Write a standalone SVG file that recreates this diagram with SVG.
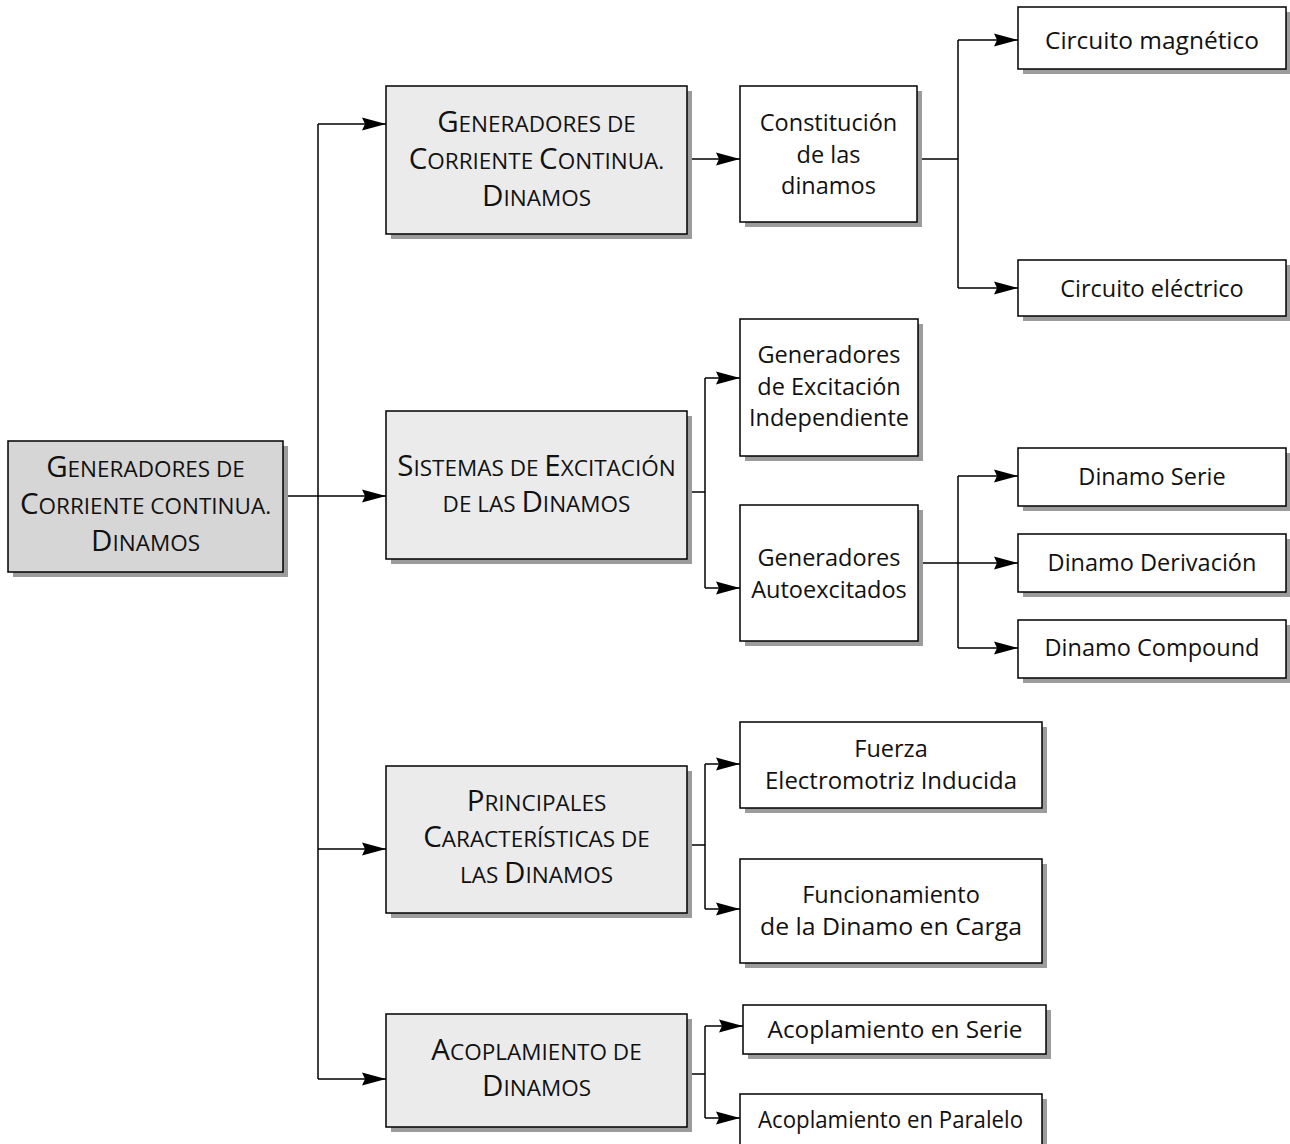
<svg xmlns="http://www.w3.org/2000/svg" width="1290" height="1144" viewBox="0 0 1290 1144">
<style>
.sh{fill:#9c9c9c}
.bx{stroke:#000;stroke-width:1.5;fill:#fff}
.l1{fill:#ebebeb}
.rt{fill:#d6d6d6}
text{font-family:"Open Sans","Noto Sans","Liberation Sans",sans-serif;fill:#111;text-anchor:middle}
.sc{font-size:22.5px}
.B{font-size:29.5px}
.t{font-size:23.5px}
.cn path{stroke:#000;stroke-width:1.5;fill:none}
</style>
<defs>
<marker id="ar" markerUnits="userSpaceOnUse" markerWidth="26" markerHeight="14" refX="24" refY="7" orient="auto">
<path d="M0,0.5 L24,7 L0,13.5 L3,7 Z" fill="#000"/>
</marker>
</defs>
<rect width="1290" height="1144" fill="#fff"/>

<g class="cn">
<path d="M283,496 H386" marker-end="url(#ar)"/>
<path d="M318,124 V1079"/>
<path d="M318,124 H386" marker-end="url(#ar)"/>
<path d="M318,849 H386" marker-end="url(#ar)"/>
<path d="M318,1079 H386" marker-end="url(#ar)"/>
<path d="M687,159 H740" marker-end="url(#ar)"/>
<path d="M917,159 H958"/>
<path d="M958,40 V288"/>
<path d="M958,40 H1018" marker-end="url(#ar)"/>
<path d="M958,288 H1018" marker-end="url(#ar)"/>
<path d="M687,492 H705"/>
<path d="M705,378 V588"/>
<path d="M705,378 H740" marker-end="url(#ar)"/>
<path d="M705,588 H740" marker-end="url(#ar)"/>
<path d="M918,563 H1018" marker-end="url(#ar)"/>
<path d="M958,476 V648"/>
<path d="M958,476 H1018" marker-end="url(#ar)"/>
<path d="M958,648 H1018" marker-end="url(#ar)"/>
<path d="M687,845 H705"/>
<path d="M705,764 V909"/>
<path d="M705,764 H740" marker-end="url(#ar)"/>
<path d="M705,909 H740" marker-end="url(#ar)"/>
<path d="M687,1074 H705"/>
<path d="M705,1026 V1118"/>
<path d="M705,1026 H743" marker-end="url(#ar)"/>
<path d="M705,1118 H740" marker-end="url(#ar)"/>
</g>

<g id="root">
<rect class="sh" x="13" y="446" width="275" height="131"/>
<rect class="bx rt" x="8" y="441" width="275" height="131"/>
<text class="sc" x="145.5" y="477"><tspan class="B">G</tspan>ENERADORES DE</text>
<text class="sc" x="145.5" y="514"><tspan class="B">C</tspan>ORRIENTE CONTINUA.</text>
<text class="sc" x="145.5" y="551"><tspan class="B">D</tspan>INAMOS</text>
</g>

<g id="gen-cc">
<rect class="sh" x="391" y="91" width="301" height="148"/>
<rect class="bx l1" x="386" y="86" width="301" height="148"/>
<text class="sc" x="536.5" y="132"><tspan class="B">G</tspan>ENERADORES DE</text>
<text class="sc" x="536.5" y="169"><tspan class="B">C</tspan>ORRIENTE <tspan class="B">C</tspan>ONTINUA.</text>
<text class="sc" x="536.5" y="206"><tspan class="B">D</tspan>INAMOS</text>
</g>

<g id="sistemas">
<rect class="sh" x="391" y="416" width="301" height="148"/>
<rect class="bx l1" x="386" y="411" width="301" height="148"/>
<text class="sc" x="536.5" y="476"><tspan class="B">S</tspan>ISTEMAS DE <tspan class="B">E</tspan>XCITACIÓN</text>
<text class="sc" x="536.5" y="512">DE LAS <tspan class="B">D</tspan>INAMOS</text>
</g>

<g id="principales">
<rect class="sh" x="391" y="771" width="301" height="147"/>
<rect class="bx l1" x="386" y="766" width="301" height="147"/>
<text class="sc" x="536.5" y="811"><tspan class="B">P</tspan>RINCIPALES</text>
<text class="sc" x="536.5" y="847"><tspan class="B">C</tspan>ARACTERÍSTICAS DE</text>
<text class="sc" x="536.5" y="883">LAS <tspan class="B">D</tspan>INAMOS</text>
</g>

<g id="acoplamiento">
<rect class="sh" x="391" y="1019" width="301" height="113"/>
<rect class="bx l1" x="386" y="1014" width="301" height="113"/>
<text class="sc" x="536.5" y="1060"><tspan class="B">A</tspan>COPLAMIENTO DE</text>
<text class="sc" x="536.5" y="1096"><tspan class="B">D</tspan>INAMOS</text>
</g>

<g id="constitucion">
<rect class="sh" x="745" y="91" width="177" height="136"/>
<rect class="bx" x="740" y="86" width="177" height="136"/>
<text class="t" x="828.5" y="130.5">Constitución</text>
<text class="t" x="828.5" y="162.5">de las</text>
<text class="t" x="828.5" y="193.5">dinamos</text>
</g>

<g id="circ-mag">
<rect class="sh" x="1023" y="12" width="268" height="62"/>
<rect class="bx" x="1018" y="7" width="268" height="62"/>
<text class="t" x="1152" y="48.5" textLength="214" lengthAdjust="spacingAndGlyphs">Circuito magnético</text>
</g>

<g id="circ-elec">
<rect class="sh" x="1023" y="265" width="268" height="56"/>
<rect class="bx" x="1018" y="260" width="268" height="56"/>
<text class="t" x="1152" y="296.5">Circuito eléctrico</text>
</g>

<g id="gen-indep">
<rect class="sh" x="745" y="324" width="178" height="137"/>
<rect class="bx" x="740" y="319" width="178" height="137"/>
<text class="t" x="829" y="362.5">Generadores</text>
<text class="t" x="829" y="394.5">de Excitación</text>
<text class="t" x="829" y="425.5">Independiente</text>
</g>

<g id="gen-auto">
<rect class="sh" x="745" y="510" width="178" height="136"/>
<rect class="bx" x="740" y="505" width="178" height="136"/>
<text class="t" x="829" y="565.5">Generadores</text>
<text class="t" x="829" y="597.5">Autoexcitados</text>
</g>

<g id="din-serie">
<rect class="sh" x="1023" y="453" width="268" height="58"/>
<rect class="bx" x="1018" y="448" width="268" height="58"/>
<text class="t" x="1152" y="484.5">Dinamo Serie</text>
</g>

<g id="din-deriv">
<rect class="sh" x="1023" y="539" width="268" height="58"/>
<rect class="bx" x="1018" y="534" width="268" height="58"/>
<text class="t" x="1152" y="570.5">Dinamo Derivación</text>
</g>

<g id="din-comp">
<rect class="sh" x="1023" y="625" width="268" height="58"/>
<rect class="bx" x="1018" y="620" width="268" height="58"/>
<text class="t" x="1152" y="655.5">Dinamo Compound</text>
</g>

<g id="fuerza">
<rect class="sh" x="745" y="727" width="302" height="86"/>
<rect class="bx" x="740" y="722" width="302" height="86"/>
<text class="t" x="891" y="756.5">Fuerza</text>
<text class="t" x="891" y="788.5" textLength="252" lengthAdjust="spacingAndGlyphs">Electromotriz Inducida</text>
</g>

<g id="funcionamiento">
<rect class="sh" x="745" y="864" width="302" height="104"/>
<rect class="bx" x="740" y="859" width="302" height="104"/>
<text class="t" x="891" y="902.5">Funcionamiento</text>
<text class="t" x="891" y="934.5" textLength="262" lengthAdjust="spacingAndGlyphs">de la Dinamo en Carga</text>
</g>

<g id="acop-serie">
<rect class="sh" x="748" y="1010" width="303" height="49"/>
<rect class="bx" x="743" y="1005" width="303" height="49"/>
<text class="t" x="895" y="1037.5" textLength="255" lengthAdjust="spacingAndGlyphs">Acoplamiento en Serie</text>
</g>

<g id="acop-paralelo">
<rect class="sh" x="745" y="1099" width="302" height="50"/>
<rect class="bx" x="740" y="1094" width="302" height="52"/>
<text class="t" x="890.5" y="1127.5" textLength="265" lengthAdjust="spacingAndGlyphs">Acoplamiento en Paralelo</text>
</g>
</svg>
